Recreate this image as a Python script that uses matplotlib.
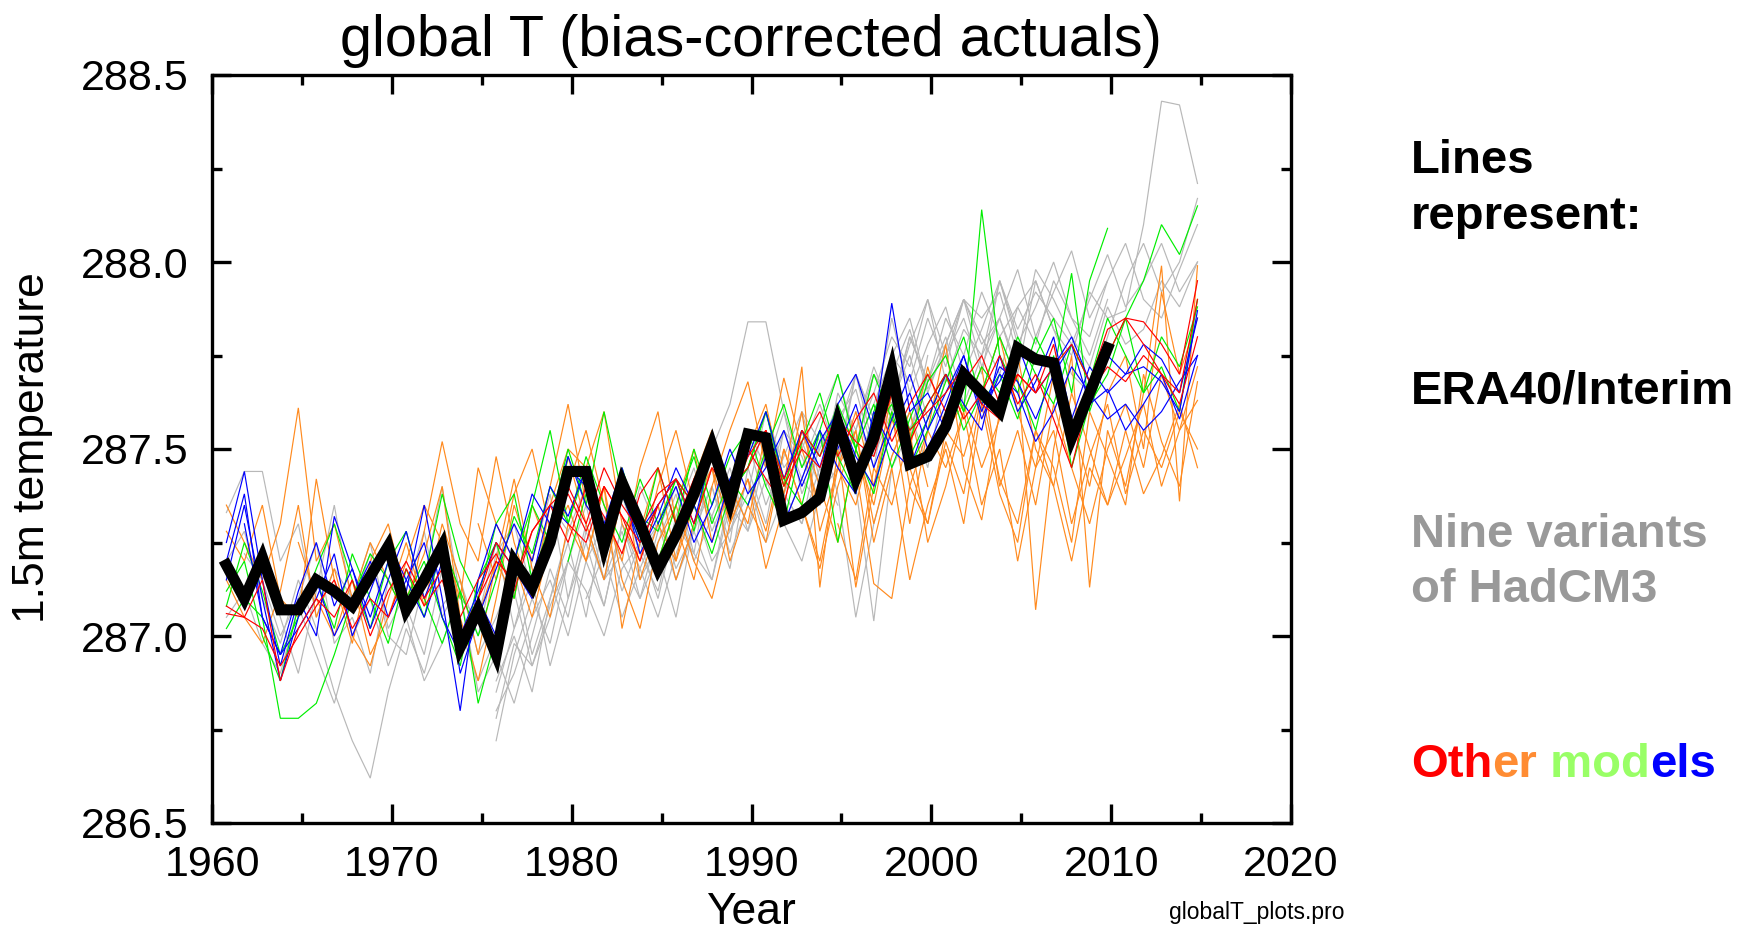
import numpy as np
import matplotlib
matplotlib.use("Agg")
import matplotlib.pyplot as plt
from matplotlib.ticker import MultipleLocator

plt.rcParams['font.family'] = ['Liberation Sans', 'DejaVu Sans']

# ---------------------------------------------------------------------------
# Reanalysis: ERA40 / ERA-Interim global mean 1.5 m temperature (K)
era_start = 1961
era = [287.19, 287.10, 287.21, 287.07, 287.07, 287.15, 287.12, 287.08, 287.16, 287.24,
       287.07, 287.15, 287.24, 286.97, 287.07, 286.95, 287.20, 287.13, 287.25, 287.44,
       287.44, 287.24, 287.41, 287.30, 287.18, 287.27, 287.38, 287.51, 287.36, 287.54,
       287.53, 287.31, 287.33, 287.37, 287.57, 287.42, 287.53, 287.71, 287.46, 287.48,
       287.56, 287.70, 287.65, 287.60, 287.77, 287.74, 287.73, 287.53, 287.65, 287.77]

# Nine variants of HadCM3 (hindcast segments), first year + annual values
hadcm3_1_start = 1961
hadcm3_1 = [287.33, 287.44, 287.44, 287.20, 287.30, 287.05, 287.18, 287.10, 287.25, 287.02,
            287.12, 287.28, 287.05, 287.15, 287.00, 287.22, 287.30, 287.12, 287.35, 287.28,
            287.40, 287.25, 287.38, 287.22, 287.30]
hadcm3_2_start = 1961
hadcm3_2 = [287.20, 287.28, 287.10, 286.98, 287.15, 287.02, 286.85, 286.72, 286.62, 286.85,
            287.02, 286.90, 287.08, 287.15, 286.95, 287.05, 287.18, 286.95, 287.10, 287.28]
hadcm3_3_start = 1962
hadcm3_3 = [287.10, 287.20, 287.05, 286.90, 287.12, 287.35, 287.08, 287.22, 287.00, 286.95,
            287.15, 287.40, 287.10, 287.05, 287.25, 287.02, 287.20, 287.38, 287.10, 287.30,
            287.15, 287.22, 287.40, 287.28]
hadcm3_4_start = 1976
hadcm3_4 = [286.72, 286.95, 287.10, 286.98, 287.20, 287.35, 287.15, 287.28, 287.10, 287.22,
            287.05, 287.30, 287.40, 287.25, 287.55, 287.45, 287.60, 287.38, 287.50, 287.62,
            287.40, 287.04, 287.45, 287.55, 287.70]
hadcm3_5_start = 1976
hadcm3_5 = [286.80, 286.90, 287.05, 287.15, 287.00, 287.20, 287.30, 287.12, 287.25, 287.35,
            287.18, 287.28, 287.15, 287.38, 287.45, 287.30, 287.55, 287.42, 287.35, 287.58,
            287.66, 287.48, 287.60, 287.52, 287.75]
hadcm3_6_start = 1976
hadcm3_6 = [286.88, 287.00, 286.85, 287.10, 287.25, 287.05, 287.32, 287.20, 287.10, 287.28,
            287.40, 287.22, 287.50, 287.62, 287.84, 287.84, 287.60, 287.45, 287.58, 287.70,
            287.52, 287.65, 287.80, 287.72, 287.90, 287.68, 287.82, 287.75, 287.95, 287.80]
hadcm3_7_start = 1986
hadcm3_7 = [287.25, 287.40, 287.32, 287.18, 287.45, 287.55, 287.38, 287.50, 287.62, 287.48,
            287.70, 287.58, 287.75, 287.85, 287.66, 287.78, 287.90, 287.72, 287.85, 287.98,
            287.80, 287.92, 288.03, 287.85, 287.95]
hadcm3_8_start = 1991
hadcm3_8 = [287.40, 287.55, 287.48, 287.35, 287.62, 287.50, 287.70, 287.62, 287.80, 287.68,
            287.75, 287.90, 287.78, 287.85, 287.70, 287.95, 287.82, 287.75, 287.92, 287.85,
            287.87, 288.10, 288.43, 288.42, 288.21]
hadcm3_9_start = 1996
hadcm3_9 = [287.50, 287.62, 287.75, 287.68, 287.85, 287.72, 287.90, 287.80, 287.70, 287.88,
            287.95, 287.82, 287.70, 287.65, 287.80, 287.95, 288.05, 287.92, 288.00, 288.17]
hadcm3_10_start = 1996
hadcm3_10 = [287.60, 287.45, 287.70, 287.82, 287.65, 287.78, 287.90, 287.85, 287.92, 287.75,
             287.98, 287.90, 287.80, 287.72, 287.88, 287.78, 287.82, 287.95, 287.88, 288.00]
hadcm3_11_start = 1981
hadcm3_11 = [287.10, 287.22, 287.05, 287.18, 287.30, 287.15, 287.28, 287.40, 287.22, 287.35,
             287.48, 287.30, 287.42, 287.55, 287.38, 287.05, 287.30, 287.48, 287.60, 287.45,
             287.70, 287.58, 287.65, 287.80, 287.68]
hadcm3_12_start = 1976
hadcm3_12 = [286.78, 286.98, 286.92, 287.08, 287.20, 287.12, 287.00, 287.18, 287.25, 287.10,
             287.30, 287.22, 287.15, 287.35, 287.28, 287.42, 287.30, 287.20, 287.38, 287.45]
hadcm3_13_start = 1961
hadcm3_13 = [287.05, 287.12, 286.98, 286.90, 287.08, 286.95, 286.82, 287.00, 287.10, 286.92,
             287.05, 286.88, 286.98, 287.12, 286.85, 286.95]
hadcm3_14_start = 1962
hadcm3_14 = [287.22, 287.15, 287.00, 287.10, 287.25, 286.98, 287.05, 286.90, 287.15, 287.08,
             286.95, 287.18, 287.02, 286.88, 287.00, 287.12, 286.92, 287.05, 287.20]
hadcm3_15_start = 1976
hadcm3_15 = [286.85, 287.02, 287.15, 286.92, 287.10, 287.25, 287.08, 287.30, 287.18, 287.05,
             287.22, 287.35, 287.20, 287.28, 287.42, 287.25, 287.38, 287.30, 287.45, 287.35]
hadcm3_16_start = 1976
hadcm3_16 = [286.95, 286.82, 287.00, 287.18, 287.05, 287.28, 287.15, 287.38, 287.22, 287.12,
             287.32, 287.45, 287.28, 287.40, 287.52, 287.35, 287.48, 287.60, 287.42, 287.55,
             287.70, 287.50, 287.62, 287.75, 287.58]
hadcm3_17_start = 1986
hadcm3_17 = [287.15, 287.30, 287.45, 287.28, 287.38, 287.60, 287.45, 287.52, 287.40, 287.65,
             287.55, 287.72, 287.60, 287.80, 287.68, 287.85, 287.75, 287.92, 287.80, 287.88,
             287.78, 287.95, 287.85, 287.75, 287.90]
hadcm3_18_start = 1991
hadcm3_18 = [287.50, 287.38, 287.60, 287.52, 287.45, 287.70, 287.58, 287.85, 287.65, 287.78,
             287.88, 287.70, 287.82, 287.95, 287.78, 287.88, 288.00, 287.85, 287.80, 287.95,
             288.05, 287.90, 287.85, 287.98, 288.10]
hadcm3_19_start = 1981
hadcm3_19 = [287.20, 287.08, 287.30, 287.15, 287.25, 287.38, 287.20, 287.32, 287.45, 287.28,
             287.50, 287.38, 287.30, 287.52, 287.60, 287.45, 287.58, 287.70, 287.55, 287.68,
             287.80, 287.62, 287.75, 287.85, 287.72]
hadcm3_20_start = 1996
hadcm3_20 = [287.55, 287.70, 287.62, 287.78, 287.90, 287.75, 287.85, 287.70, 287.95, 287.82,
             287.92, 287.85, 287.78, 287.90, 288.02, 287.88, 287.95, 288.05, 287.92, 288.00]

# Other models: orange group
orange_1_start = 1961
orange_1 = [287.35, 287.25, 287.15, 287.30, 287.61, 287.20, 287.30, 287.10, 287.25, 287.15,
            287.05, 287.28, 287.52, 287.30, 287.20, 287.48, 287.25, 287.10, 287.35, 287.50,
            287.45, 287.60, 287.30, 287.20, 287.40, 287.55, 287.35, 287.45, 287.30, 287.50,
            287.62, 287.40, 287.72, 287.13, 287.50, 287.13, 287.40, 287.60, 287.30, 287.55,
            287.78, 287.45, 287.31, 287.60, 287.70, 287.07, 287.50, 287.75, 287.13, 287.55,
            287.40, 287.65, 287.99, 287.36, 287.99]
orange_2_start = 1961
orange_2 = [287.28, 287.20, 287.35, 287.10, 287.05, 287.42, 287.15, 286.98, 287.20, 287.30,
            287.10, 287.22, 287.40, 287.05, 286.88, 287.10, 287.35, 287.20, 287.40, 287.62,
            287.35, 287.28, 287.45, 287.15, 287.30, 287.20, 287.42, 287.55, 287.35, 287.48]
orange_3_start = 1975
orange_3 = [287.30, 287.15, 287.38, 287.50, 287.28, 287.40, 287.55, 287.35, 287.20, 287.45,
            287.60, 287.30, 287.15, 287.40, 287.55, 287.68, 287.45, 287.69, 287.50, 287.35,
            287.60, 287.45, 287.14, 287.10, 287.40, 287.55, 287.45, 287.60, 287.72, 287.40,
            287.55, 287.35, 287.62, 287.45, 287.30, 287.50, 287.62, 287.45, 287.70, 287.55,
            287.63]
orange_4_start = 1985
orange_4 = [287.20, 287.35, 287.50, 287.25, 287.40, 287.30, 287.55, 287.38, 287.60, 287.28,
            287.45, 287.35, 287.55, 287.68, 287.40, 287.30, 287.55, 287.62, 287.45, 287.58,
            287.75, 287.50, 287.40, 287.65, 287.50, 287.35, 287.48, 287.62, 287.40, 287.55,
            287.72]
orange_5_start = 1965
orange_5 = [287.25, 287.10, 287.00, 287.15, 286.95, 287.05, 287.20, 287.35, 287.25, 287.10,
            287.45, 287.30, 287.20, 287.05, 287.25, 287.35, 287.20, 287.40, 287.02, 287.25,
            287.35, 287.15, 287.30, 287.45, 287.20, 287.35, 287.25, 287.50, 287.35, 287.20,
            287.45, 287.55, 287.30, 287.48, 287.60, 287.40]
orange_6_start = 1995
orange_6 = [287.45, 287.60, 287.40, 287.65, 287.50, 287.72, 287.55, 287.48, 287.65, 287.80,
            287.60, 287.45, 287.70, 287.58, 287.40, 287.65, 287.75, 287.50, 287.92, 287.70,
            287.85]
orange_7_start = 1961
orange_7 = [287.15, 287.05, 286.98, 287.12, 287.35, 287.05, 287.18, 287.00, 286.92, 287.10,
            287.25, 287.08, 287.30, 287.15, 286.95, 287.20, 287.42, 287.18, 287.05, 287.30,
            287.20, 287.40, 287.15, 287.02, 287.25, 287.35, 287.20, 287.10, 287.30, 287.42,
            287.28, 287.50, 287.35, 287.18, 287.40, 287.55, 287.25, 287.45, 287.15, 287.35,
            287.50, 287.30, 287.62, 287.38, 287.25, 287.55, 287.40, 287.20, 287.45, 287.35,
            287.55, 287.38, 287.48, 287.62, 287.45]
orange_8_start = 1975
orange_8 = [287.05, 287.20, 287.10, 287.35, 287.22, 287.48, 287.30, 287.15, 287.38, 287.28,
            287.45, 287.20, 287.35, 287.52, 287.30, 287.42, 287.18, 287.35, 287.55, 287.40,
            287.25, 287.50, 287.35, 287.58, 287.45, 287.30, 287.52, 287.38, 287.65, 287.42,
            287.30, 287.55, 287.45, 287.25, 287.60, 287.48, 287.35, 287.70, 287.52, 287.40,
            287.68]
orange_9_start = 1995
orange_9 = [287.30, 287.15, 287.45, 287.35, 287.55, 287.25, 287.40, 287.60, 287.35, 287.50,
            287.20, 287.45, 287.55, 287.30, 287.48, 287.62, 287.38, 287.55, 287.45, 287.60,
            287.50]

# Other models: green group
green_1_start = 1961
green_1 = [287.02, 287.10, 287.05, 286.78, 286.78, 286.82, 286.95, 287.10, 287.22, 287.15,
           287.05, 287.15, 287.38, 287.20, 287.10, 287.30, 287.38, 287.15, 287.30, 287.50,
           287.35, 287.60, 287.38, 287.25, 287.45, 287.30, 287.50, 287.35, 287.48, 287.55,
           287.40, 287.30, 287.52, 287.65, 287.48, 287.38, 287.60, 287.72, 287.55, 287.62,
           287.70, 287.60, 288.14, 287.75, 287.65, 287.80, 287.70, 287.97, 287.60, 287.75,
           287.85, 287.95, 288.10, 288.02, 288.15]
green_2_start = 1961
green_2 = [287.08, 287.25, 287.12, 286.95, 287.05, 287.18, 287.30, 287.15, 287.02, 287.20,
           287.28, 287.10, 286.98, 287.12, 286.82, 287.00, 287.20, 287.35, 287.25, 287.48]
green_3_start = 1971
green_3 = [287.10, 287.20, 287.05, 286.92, 287.15, 287.25, 287.10, 287.35, 287.55, 287.30,
           287.45, 287.25, 287.40, 287.32, 287.28, 287.42, 287.35, 287.22, 287.38, 287.45,
           287.60, 287.42, 287.35, 287.55, 287.25, 287.50, 287.62, 287.45, 287.58, 287.70]
green_4_start = 1980
green_4 = [287.20, 287.38, 287.25, 287.45, 287.30, 287.20, 287.35, 287.48, 287.30, 287.42,
           287.35, 287.50, 287.62, 287.45, 287.55, 287.70, 287.50, 287.38, 287.60, 287.45,
           287.55, 287.68, 287.80, 287.62, 287.70, 287.58, 287.75, 287.85, 287.65, 287.95,
           288.09]
green_5_start = 1996
green_5 = [287.40, 287.55, 287.62, 287.48, 287.58, 287.70, 287.55, 287.65, 287.80, 287.68,
           287.55, 287.75, 287.45, 287.62, 287.70, 287.85, 287.65, 287.72, 287.60, 287.90]
green_6_start = 1961
green_6 = [287.12, 287.20, 287.00, 286.88, 287.08, 287.15, 287.02, 287.22, 287.10, 286.98,
           287.18, 287.05, 287.25, 287.12, 287.00, 287.15, 287.32, 287.22, 287.40, 287.30,
           287.48, 287.35, 287.25, 287.42, 287.30]
green_7_start = 1985
green_7 = [287.30, 287.42, 287.28, 287.50, 287.38, 287.45, 287.60, 287.40, 287.55, 287.48,
           287.62, 287.50, 287.70, 287.58, 287.52, 287.68, 287.75, 287.60, 287.72, 287.65,
           287.80, 287.70, 287.62, 287.78, 287.68, 287.85, 287.75, 287.65, 287.80, 287.72,
           287.88]

# Other models: blue group
blue_1_start = 1961
blue_1 = [287.25, 287.44, 287.15, 286.92, 287.10, 287.00, 287.32, 287.18, 287.05, 287.20,
          287.12, 287.35, 287.10, 286.80, 287.15, 287.30, 287.20, 287.38, 287.30, 287.45,
          287.40, 287.30, 287.45, 287.28, 287.35, 287.42, 287.30, 287.50, 287.40, 287.48,
          287.60, 287.42, 287.55, 287.45, 287.62, 287.70, 287.55, 287.89, 287.60, 287.65,
          287.55, 287.72, 287.62, 287.68, 287.78, 287.65, 287.72, 287.80, 287.68, 287.75,
          287.70, 287.72, 287.68, 287.60, 287.87]
blue_2_start = 1961
blue_2 = [287.15, 287.35, 287.10, 286.88, 287.05, 287.15, 287.00, 287.10, 287.20, 287.05,
          287.15, 287.25, 287.05, 286.95, 287.10, 287.00, 287.22, 287.15, 287.35, 287.30]
blue_3_start = 1962
blue_3 = [287.30, 287.05, 286.95, 287.02, 287.10, 287.22, 287.00, 287.12, 287.25, 287.15,
          287.05, 287.20, 287.00, 287.12, 287.25, 287.18, 287.10, 287.30, 287.48, 287.35,
          287.28, 287.40, 287.22, 287.32, 287.45, 287.35, 287.25, 287.42, 287.50]
blue_4_start = 1985
blue_4 = [287.30, 287.40, 287.25, 287.35, 287.50, 287.38, 287.45, 287.55, 287.40, 287.52,
          287.60, 287.48, 287.40, 287.55, 287.65, 287.50, 287.62, 287.75, 287.58, 287.70,
          287.65, 287.52, 287.60, 287.72, 287.65, 287.58, 287.62, 287.55, 287.60, 287.68,
          287.75]
blue_5_start = 1990
blue_5 = [287.35, 287.48, 287.30, 287.42, 287.55, 287.45, 287.38, 287.60, 287.50, 287.45,
          287.58, 287.70, 287.62, 287.55, 287.75, 287.60, 287.68, 287.80, 287.58, 287.72,
          287.65, 287.70, 287.78, 287.74, 287.65, 287.85]
blue_6_start = 1961
blue_6 = [287.20, 287.38, 287.05, 286.95, 287.12, 287.25, 287.08, 287.18, 287.02, 287.15,
          287.28, 287.10, 287.22, 286.90, 287.05, 287.18, 287.30, 287.20, 287.40, 287.32,
          287.45, 287.28, 287.38, 287.25, 287.35]
blue_7_start = 1995
blue_7 = [287.50, 287.62, 287.45, 287.58, 287.70, 287.55, 287.65, 287.75, 287.60, 287.72,
          287.68, 287.58, 287.70, 287.78, 287.62, 287.66, 287.55, 287.62, 287.70, 287.58,
          287.75]

# Other models: red group
red_1_start = 1961
red_1 = [287.08, 287.05, 287.15, 286.88, 287.02, 287.10, 287.05, 287.15, 287.00, 287.12,
         287.20, 287.10, 287.18, 287.05, 287.15, 287.22, 287.12, 287.28, 287.35, 287.40,
         287.30, 287.45, 287.35, 287.28, 287.38, 287.42, 287.35, 287.48, 287.40, 287.45,
         287.55, 287.40, 287.50, 287.45, 287.58, 287.52, 287.48, 287.65, 287.55, 287.60,
         287.65, 287.72, 287.62, 287.58, 287.70, 287.65, 287.78, 287.55, 287.68, 287.75,
         287.85, 287.84, 287.78, 287.70, 287.95]
red_2_start = 1961
red_2 = [287.06, 287.05, 287.02, 286.92, 287.00, 287.08, 287.15, 287.02, 287.10, 287.05,
         287.18, 287.08, 287.15, 287.00, 287.10, 287.25, 287.18, 287.12, 287.30, 287.38,
         287.28, 287.40, 287.32, 287.25, 287.35]
red_3_start = 1980
red_3 = [287.30, 287.25, 287.40, 287.32, 287.20, 287.35, 287.42, 287.30, 287.45, 287.38,
         287.50, 287.42, 287.35, 287.55, 287.48, 287.60, 287.45, 287.55, 287.68, 287.52,
         287.62, 287.70, 287.58, 287.65, 287.75, 287.62, 287.70, 287.58, 287.45, 287.65,
         287.72, 287.68, 287.75, 287.70, 287.62, 287.80]
red_4_start = 1975
red_4 = [287.10, 287.20, 287.15, 287.28, 287.35, 287.25, 287.40, 287.32, 287.22, 287.38,
         287.45, 287.30, 287.42, 287.50, 287.38, 287.48, 287.55, 287.42, 287.52, 287.60,
         287.48, 287.58, 287.65, 287.52, 287.62, 287.70, 287.60, 287.68, 287.75, 287.62,
         287.70, 287.65, 287.72, 287.78, 287.68, 287.82, 287.85, 287.78, 287.70, 287.65,
         287.90]

x_ticks = [1960, 1970, 1980, 1990, 2000, 2010, 2020]
y_ticks = [286.5, 287.0, 287.5, 288.0, 288.5]

# ---------------------------------------------------------------------------
GREY = '#b8b8b8'
ORANGE = '#ff8a1e'
GREEN = '#00ee00'
BLUE = '#0000ff'
RED = '#ff0000'
TIME_SHIFT = -0.2   # annual means plotted slightly before the calendar year mark

fig = plt.figure(figsize=(17.49, 9.33), dpi=100)
fig.patch.set_facecolor('white')
ax = fig.add_axes([212 / 1749, 1 - 823 / 933, (1291 - 212) / 1749, (823 - 75) / 933])


def draw(start, values, color, lw=0.85, z=2):
    yrs = start + np.arange(len(values)) + TIME_SHIFT
    ax.plot(yrs, values, color=color, lw=lw, zorder=z, solid_joinstyle='miter')


groups = [
    (GREY, [(hadcm3_1_start, hadcm3_1), (hadcm3_2_start, hadcm3_2), (hadcm3_3_start, hadcm3_3),
            (hadcm3_4_start, hadcm3_4), (hadcm3_5_start, hadcm3_5), (hadcm3_6_start, hadcm3_6),
            (hadcm3_7_start, hadcm3_7), (hadcm3_8_start, hadcm3_8), (hadcm3_9_start, hadcm3_9),
            (hadcm3_10_start, hadcm3_10), (hadcm3_11_start, hadcm3_11),
            (hadcm3_12_start, hadcm3_12), (hadcm3_13_start, hadcm3_13),
            (hadcm3_14_start, hadcm3_14), (hadcm3_15_start, hadcm3_15),
            (hadcm3_16_start, hadcm3_16), (hadcm3_17_start, hadcm3_17),
            (hadcm3_18_start, hadcm3_18), (hadcm3_19_start, hadcm3_19),
            (hadcm3_20_start, hadcm3_20)]),
    (ORANGE, [(orange_1_start, orange_1), (orange_2_start, orange_2), (orange_3_start, orange_3),
              (orange_4_start, orange_4), (orange_5_start, orange_5), (orange_6_start, orange_6),
              (orange_7_start, orange_7), (orange_8_start, orange_8), (orange_9_start, orange_9)]),
    (GREEN, [(green_1_start, green_1), (green_2_start, green_2), (green_3_start, green_3),
             (green_4_start, green_4), (green_5_start, green_5), (green_6_start, green_6),
             (green_7_start, green_7)]),
    (BLUE, [(blue_1_start, blue_1), (blue_2_start, blue_2), (blue_3_start, blue_3),
            (blue_4_start, blue_4), (blue_5_start, blue_5), (blue_6_start, blue_6),
            (blue_7_start, blue_7)]),
    (RED, [(red_1_start, red_1), (red_2_start, red_2), (red_3_start, red_3),
           (red_4_start, red_4)]),
]
for color, runs in groups:
    for start, vals in runs:
        draw(start, vals, color)

draw(era_start, era, 'black', lw=8, z=5)

ax.set_xlim(1960, 2020)
ax.set_ylim(286.5, 288.5)
ax.set_xticks(x_ticks)
ax.set_yticks(y_ticks)
ax.set_yticklabels([f'{v:.1f}' for v in y_ticks])
ax.xaxis.set_minor_locator(MultipleLocator(5))
ax.yaxis.set_minor_locator(MultipleLocator(0.25))
ax.tick_params(which='both', direction='in', top=True, right=True, width=2.4, color='black')
ax.tick_params(which='major', length=14, labelsize=31)
ax.tick_params(which='minor', length=7.5)
ax.tick_params(axis='x', which='major', pad=16)
ax.tick_params(axis='y', which='major', pad=17)
for sp in ax.spines.values():
    sp.set_linewidth(2.4)

fig.text(751 / 1749, 1 - 56 / 933, 'global T (bias-corrected actuals)', fontsize=41.5,
         ha='center', va='baseline')
fig.text(751 / 1749, 9 / 933, 'Year', fontsize=32, ha='center', va='baseline')
fig.text(33 / 1749, 0.52, '1.5m temperature', fontsize=32, ha='center', va='center',
         rotation=90)
fig.text(1169 / 1749, 1 - 912 / 933, 'globalT_plots.pro', fontsize=16.5, ha='left',
         va='center')

# Key on the right
kx = 1411 / 1749
kfs = 34
fig.text(kx, 1 - 173 / 933, 'Lines', fontsize=kfs, fontweight='bold', va='baseline')
fig.text(kx, 1 - 229 / 933, 'represent:', fontsize=kfs, fontweight='bold', va='baseline')
fig.text(kx, 1 - 404 / 933, 'ERA40/Interim', fontsize=kfs, fontweight='bold', va='baseline')
fig.text(kx, 1 - 547 / 933, 'Nine variants', fontsize=kfs, fontweight='bold',
         va='baseline', color='#999999')
fig.text(kx, 1 - 602 / 933, 'of HadCM3', fontsize=kfs, fontweight='bold',
         va='baseline', color='#999999')

renderer = fig.canvas.get_renderer()
pieces = [('Oth', '#ff0000'), ('er', '#ff8c33'), (' mod', '#99ff66'), ('els', '#0000ff')]
xpos = kx
for txt, col in pieces:
    t = fig.text(xpos, 1 - 777 / 933, txt, fontsize=kfs, fontweight='bold',
                 va='baseline', color=col)
    bb = t.get_window_extent(renderer=renderer)
    xpos += bb.width / fig.bbox.width

fig.savefig('out.png', dpi=100, facecolor='white')
